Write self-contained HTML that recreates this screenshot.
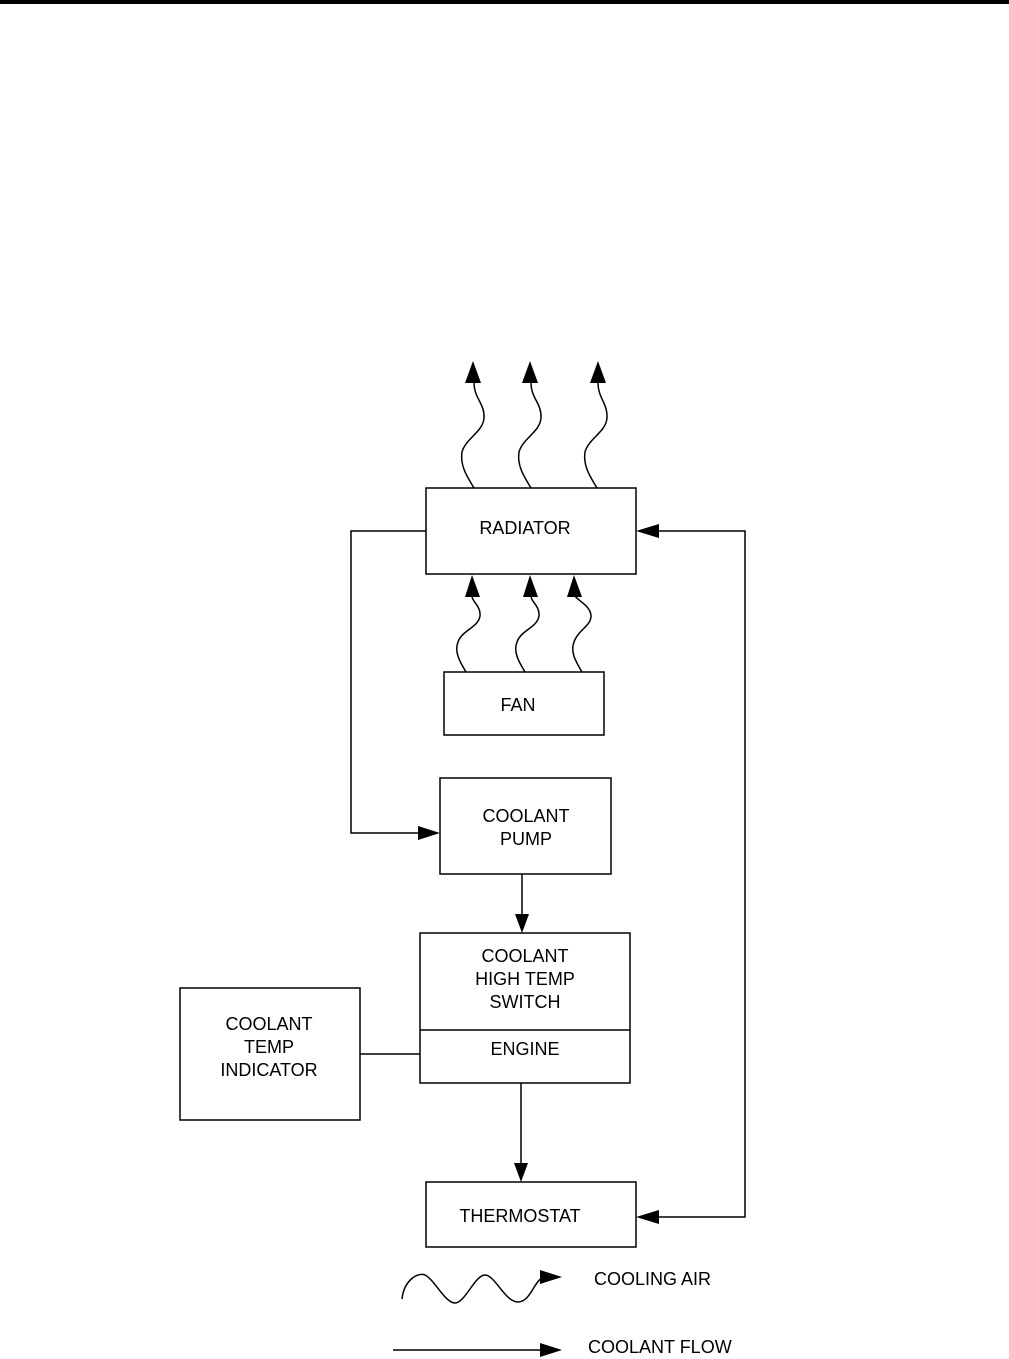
<!DOCTYPE html>
<html><head><meta charset="utf-8"><style>
html,body{margin:0;padding:0;background:#fff;}
svg{display:block}
text{font-family:"Liberation Sans",Arial,sans-serif;font-size:18px;fill:#000}
</style></head><body>
<svg width="1009" height="1359" viewBox="0 0 1009 1359" xmlns="http://www.w3.org/2000/svg">
<defs>
<marker id="a" markerWidth="10" markerHeight="8" refX="9" refY="4" orient="auto" markerUnits="userSpaceOnUse" viewBox="0 0 10 8"></marker>
</defs>
<rect x="0" y="0" width="1009" height="4" fill="#000"/>
<g fill="none" stroke="#000" stroke-width="1.5">
<rect x="426" y="488" width="210" height="86"/>
<rect x="444" y="672" width="160" height="63"/>
<rect x="440" y="778" width="171" height="96"/>
<rect x="420" y="933" width="210" height="150"/>
<line x1="420" y1="1030" x2="630" y2="1030"/>
<rect x="180" y="988" width="180" height="132"/>
<rect x="426" y="1182" width="210" height="65"/>
<polyline points="426,531 351,531 351,833 425,833"/>
<line x1="522" y1="874" x2="522" y2="920"/>
<line x1="360" y1="1054" x2="420" y2="1054"/>
<line x1="521" y1="1083" x2="521" y2="1168"/>
<polyline points="651,531 745,531 745,1217 651,1217"/>
<line x1="393" y1="1350" x2="545" y2="1350"/>
<!-- top waves -->
<path d="M474,488 C466,475 460,465 462,452 C466,438 483,432 484,418 C485,404 474,398 474,383"/>
<path d="M531,488 C523,475 517,465 519,452 C523,438 540,432 541,418 C542,404 531,398 531,383"/>
<path d="M597,488 C589,475 583,465 585,452 C589,438 606,432 607,418 C608,404 598,398 598,383"/>
<!-- bottom waves -->
<path d="M466,672 C460,662 454,652 458,642 C462,630 478,628 480,616 C481,606 472,602 472,596"/>
<path d="M525,672 C519,662 513,652 517,642 C521,630 537,628 539,616 C540,606 531,602 531,596"/>
<path d="M582,672 C576,662 570,652 574,642 C578,630 591,626 591,616 C591,606 577,600 575,596"/>
<!-- legend wave -->
<path d="M402,1299 C404,1280 418,1272 425,1275 C435,1280 445,1303 455,1303 C465,1303 475,1275 485,1275 C495,1275 505,1302 518,1302 C530,1302 534,1282 542,1278"/>
</g>
<g fill="#000">
<polygon points="473,361 465,383 481,383"/>
<polygon points="530,361 522,383 538,383"/>
<polygon points="598,361 590,383 606,383"/>
<polygon points="472,575 465,597 480,597"/>
<polygon points="530,575 523,597 538,597"/>
<polygon points="574,575 567,597 582,597"/>
<polygon points="440,833 418,826 418,840"/>
<polygon points="522,933 515,914 529,914"/>
<polygon points="521,1182 514,1163 528,1163"/>
<polygon points="636,531 659,524 659,538"/>
<polygon points="636,1217 659,1210 659,1224"/>
<polygon points="562,1277 540,1270 540,1284"/>
<polygon points="562,1350 540,1343 540,1357"/>
</g>
<text x="525" y="534" text-anchor="middle">RADIATOR</text>
<text x="518" y="711" text-anchor="middle">FAN</text>
<text x="526" y="822" text-anchor="middle">COOLANT</text>
<text x="526" y="845" text-anchor="middle">PUMP</text>
<text x="525" y="962" text-anchor="middle">COOLANT</text>
<text x="525" y="985" text-anchor="middle">HIGH TEMP</text>
<text x="525" y="1008" text-anchor="middle">SWITCH</text>
<text x="525" y="1055" text-anchor="middle">ENGINE</text>
<text x="269" y="1030" text-anchor="middle">COOLANT</text>
<text x="269" y="1053" text-anchor="middle">TEMP</text>
<text x="269" y="1076" text-anchor="middle">INDICATOR</text>
<text x="520" y="1222" text-anchor="middle">THERMOSTAT</text>
<text x="594" y="1285">COOLING AIR</text>
<text x="588" y="1353">COOLANT FLOW</text>
</svg>
</body></html>
